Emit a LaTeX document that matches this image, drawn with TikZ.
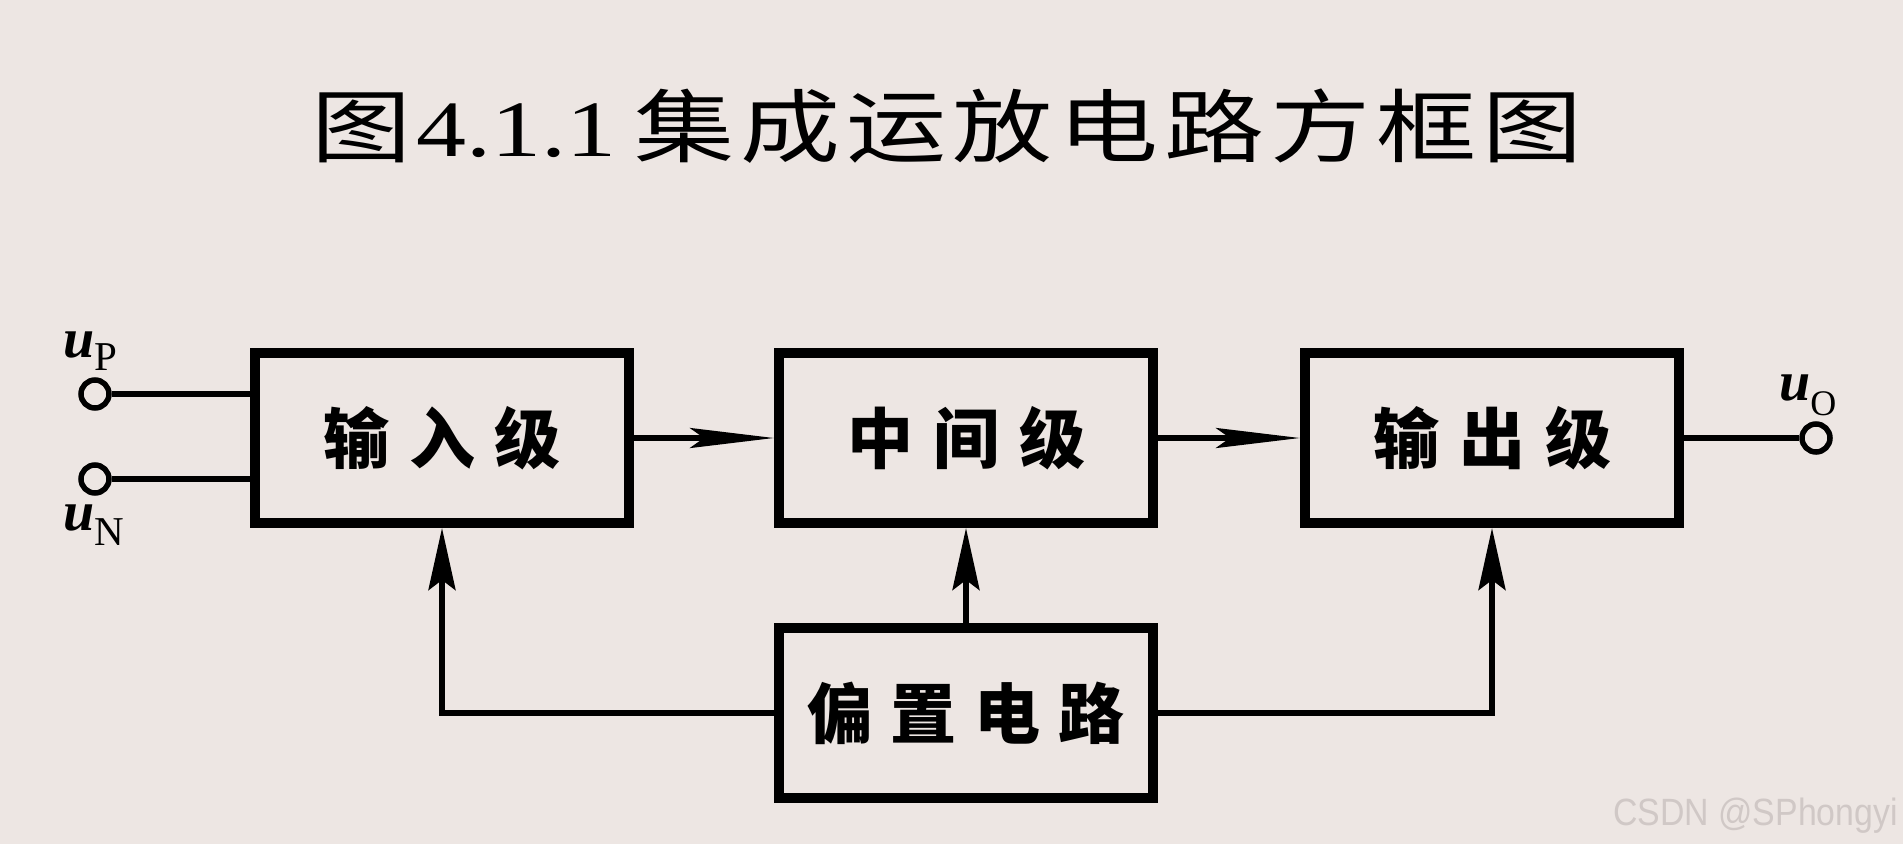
\documentclass[tikz,border=0pt]{standalone}
\usepackage{graphicx}
\usepackage{fontspec}
\setmainfont{Liberation Serif}
\newfontfamily\cjk{Noto Sans CJK SC}
\newfontfamily\wmfont{Liberation Sans}
\usetikzlibrary{arrows.meta}
\definecolor{bgcol}{RGB}{237,230,227}
\definecolor{wmcol}{RGB}{208,200,198}
\newcommand\tsp{\hspace{4.8pt}}
\newcommand\bsp{\hspace{20pt}}
\begin{document}
\begin{tikzpicture}[x=1pt,y=-1pt,
  blockbox/.style={draw=black, line width=10pt, minimum width=374pt, minimum height=170pt, inner sep=0pt, font=\cjk\bfseries\fontsize{66}{66}\selectfont},
  wire/.style={line width=5.5pt},
  harrow/.style={wire, -{Stealth[length=84pt,width=20pt,inset=14pt]}},
  varrow/.style={wire, -{Stealth[length=62pt,width=27pt,inset=10pt]}},
  term/.style={circle, draw, line width=5.5pt, minimum size=28pt, inner sep=0pt},
  sig/.style={anchor=base west, inner sep=0pt, font=\bfseries\itshape\fontsize{56}{56}\selectfont}
]
\fill[bgcol] (0,0) rectangle (1903,844);
\useasboundingbox (0,0) rectangle (1903,844);

\node[anchor=base west, inner sep=0pt] (title) at (311,156)
  {\scalebox{1.25}[1]{\fontsize{80}{80}\selectfont\cjk 图\hspace{4pt}\rmfamily 4.1.1\hspace{15pt}\cjk 集\tsp 成\tsp 运\tsp 放\tsp 电\tsp 路\tsp 方\tsp 框\tsp 图}};

\node[blockbox] (b1) at (442,438) {输\bsp 入\bsp 级};
\node[blockbox] (b2) at (966,438) {中\bsp 间\bsp 级};
\node[blockbox] (b3) at (1492,438) {输\bsp 出\bsp 级};
\node[blockbox] (b4) at (966,713) {偏\hspace{18pt}置\hspace{18pt}电\hspace{18pt}路};

\node[term] (tp) at (95,394) {};
\node[term] (tn) at (95,479) {};
\node[term] (to) at (1816,438) {};

\draw[wire] (tp.east) -- (tp.east -| b1.west);
\draw[wire] (tn.east) -- (tn.east -| b1.west);
\draw[wire] (b3.east) -- (to.west);
\draw[harrow] (b1.east) -- (b2.west);
\draw[harrow] (b2.east) -- (b3.west);
\draw[varrow] (b4.north) -- (b2.south);
\draw[varrow] (b4.west) -| (b1.south);
\draw[varrow] (b4.east) -| (b3.south);

\node[sig] (lp) at (63,357) {u\raisebox{-13pt}{\mdseries\upshape\fontsize{41}{41}\selectfont P}};
\node[sig] (ln) at (63,530) {u\raisebox{-15pt}{\mdseries\upshape\fontsize{41}{41}\selectfont N}};
\node[sig] (lo) at (1779,400) {u\raisebox{-15pt}{\mdseries\upshape\fontsize{36}{36}\selectfont O}};

\node[anchor=base east, inner sep=0pt, text=wmcol] (wm) at (1898,825)
  {\scalebox{0.89}[1]{\wmfont\fontsize{38}{38}\selectfont CSDN @SPhongyi}};
\end{tikzpicture}
\end{document}
